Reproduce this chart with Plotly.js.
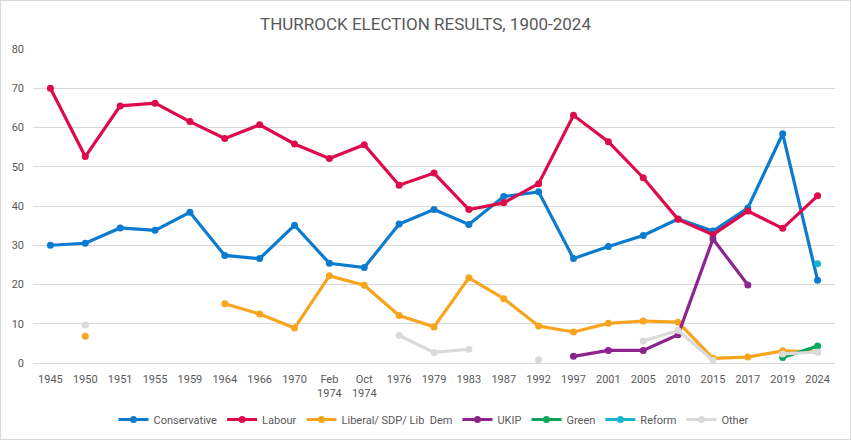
<!DOCTYPE html>
<html>
<head>
<meta charset="utf-8">
<script src="https://cdn.plot.ly/plotly-3.0.1.min.js"></script>
<style>
  html, body { margin: 0; padding: 0; background: #fff; }
  #chart { width: 849px; height: 438px; border: 1px solid #d9d9d9; }
</style>
</head>
<body>
<div id="chart"></div>
<script>
const years = ['1945', '1950', '1951', '1955', '1959', '1964', '1966', '1970', 'Feb<br>1974', 'Oct<br>1974',
    '1976', '1979', '1983', '1987', '1992', '1997', '2001', '2005', '2010', '2015', '2017', '2019', '2024'];

const conservative = [30.0, 30.5, 34.4, 33.8, 38.4, 27.4, 26.6, 35.1, 25.4, 24.3,
    35.4, 39.1, 35.3, 42.4, 43.6, 26.6, 29.7, 32.5, 36.7, 33.6, 39.5, 58.4, 21.1];
const labour = [70.0, 52.6, 65.5, 66.2, 61.5, 57.2, 60.7, 55.8, 52.1, 55.6,
    45.3, 48.4, 39.1, 40.8, 45.7, 63.1, 56.4, 47.2, 36.6, 32.7, 38.7, 34.3, 42.6];
const libDem = [null, 6.8, null, null, null, 15.1, 12.5, 8.9, 22.2, 19.8,
    12.1, 9.2, 21.7, 16.4, 9.4, 7.9, 10.1, 10.7, 10.4, 1.2, 1.5, 3.1, 2.8];
const ukip = [null, null, null, null, null, null, null, null, null, null,
    null, null, null, null, null, 1.7, 3.2, 3.2, 7.2, 31.6, 19.9, null, null];
const green = [null, null, null, null, null, null, null, null, null, null,
    null, null, null, null, null, null, null, null, null, null, null, 1.4, 4.3];
const reform = [null, null, null, null, null, null, null, null, null, null,
    null, null, null, null, null, null, null, null, null, null, null, null, 25.3];
const other = [null, 9.7, null, null, null, null, null, null, null, null,
    7.0, 2.7, 3.5, null, 0.8, null, null, 5.6, 8.3, 0.7, null, 2.3, 2.8];

function series(name, y, color) {
    return {
        x: years,
        y: y,
        name: name,
        type: 'scatter',
        mode: 'lines+markers',
        connectgaps: false,
        line: { color: color, width: 3.2 },
        marker: { color: color, size: 7 },
    };
}

const data = [
    series('Conservative', conservative, '#0B7BCF'),
    series('Labour', labour, '#DE0A4A'),
    series('Liberal/ SDP/ Lib  Dem', libDem, '#F8A51D'),
    series('UKIP', ukip, '#8B248C'),
    series('Green', green, '#08A55A'),
    series('Reform', reform, '#17B4CD'),
    series('Other', other, '#DADADA'),
];

const layout = {
    width: 849,
    height: 438,
    margin: { t: 48, l: 32, r: 15, b: 76, autoexpand: false },
    paper_bgcolor: '#ffffff',
    plot_bgcolor: '#ffffff',
    font: { family: 'Roboto, "Liberation Sans", sans-serif', color: '#595959', size: 11 },
    title: {
        text: 'THURROCK ELECTION RESULTS, 1900-2024',
        font: { family: '"Liberation Sans Narrow", Roboto, sans-serif', size: 17, color: '#595959' },
        x: 0.5,
        xanchor: 'center',
        y: 0.948,
        yanchor: 'middle',
    },
    showlegend: true,
    legend: {
        orientation: 'h',
        x: 0.5,
        xanchor: 'center',
        y: -0.18,
        yanchor: 'middle',
        font: { family: '"Liberation Sans Narrow", Roboto, sans-serif', size: 11, color: '#595959' },
        traceorder: 'normal',
    },
    xaxis: {
        type: 'category',
        range: [-0.5, 22.5],
        automargin: false,
        showgrid: false,
        zeroline: false,
        showline: false,
        ticks: '',
        ticklabelstandoff: 8,
        tickfont: { size: 11, color: '#595959' },
        fixedrange: true,
    },
    yaxis: {
        range: [0, 80],
        dtick: 10,
        automargin: false,
        showgrid: true,
        gridcolor: '#d9d9d9',
        gridwidth: 1,
        zeroline: true,
        zerolinecolor: '#d9d9d9',
        showline: false,
        ticks: '',
        ticklabelstandoff: 8,
        tickfont: { size: 11, color: '#595959' },
        fixedrange: true,
    },
};

Plotly.newPlot('chart', data, layout, { displayModeBar: false, responsive: false });
</script>
</body>
</html>
